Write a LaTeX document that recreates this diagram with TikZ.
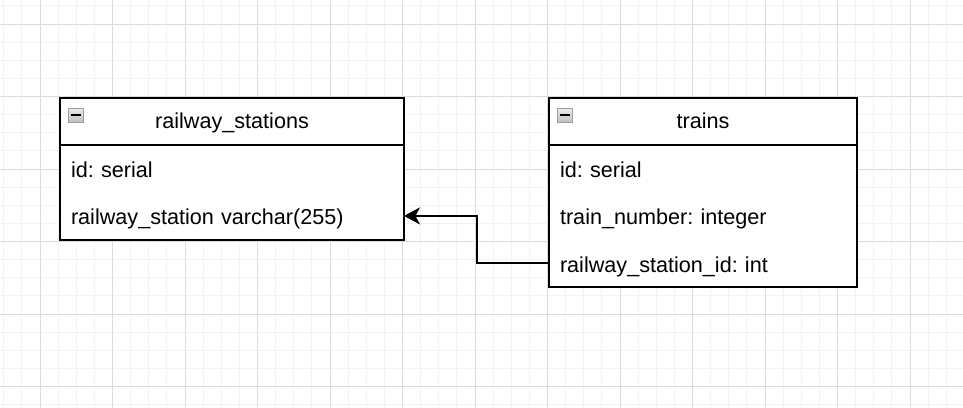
\documentclass[tikz,border=0pt]{standalone}
\usepackage{fontspec}
\setmainfont{Liberation Sans}
\usetikzlibrary{positioning,arrows.meta}
\definecolor{gridmajor}{HTML}{DBDBDB}
\definecolor{gridminor}{HTML}{F2F2F2}
\frenchspacing

\begin{document}
\begin{tikzpicture}[x=0.02cm,y=-0.02cm,
		every node/.style={font=\fontsize{12.3}{14}\selectfont,outer sep=0pt},
		tabhead/.style={draw,line width=1.14pt,fill=white,inner ysep=0pt,text height=0.606cm,text depth=0.334cm},
		tabrow/.style={fill=white,inner ysep=0pt,inner xsep=0.22cm,align=left,text height=0.65cm,text depth=0.296cm},
		tabline/.style={line width=1.14pt},
		iconbox/.style={draw=gray!75,top color=gray!15,bottom color=gray!50},
		fkline/.style={line width=1.14pt,-{Stealth[length=0.32cm,width=0.34cm,inset=0.09cm]}}]
		\useasboundingbox (0,0) rectangle (963,408);
		
		% grid
		\foreach \i in {0,...,53}
			\draw[gridminor,line width=0.5pt] ({3.75+18.125*\i},0) -- ({3.75+18.125*\i},408);
		\foreach \j in {0,...,22}
			\draw[gridminor,line width=0.5pt] (0,{5.875+18.125*\j}) -- (963,{5.875+18.125*\j});
		\foreach \i in {0,...,12}
			\draw[gridmajor,line width=0.5pt] ({40+72.5*\i},0) -- ({40+72.5*\i},408);
		\foreach \j in {0,...,5}
			\draw[gridmajor,line width=0.5pt] (0,{24+72.5*\j}) -- (963,{24+72.5*\j});
		
		% railway_stations
		\node[tabhead,minimum width=6.88cm] (stHead) at (232,121.5) {railway\_stations};
		\node[tabrow,text width=6.44cm,below=0pt of stHead] (stId) {id: serial};
		\node[tabrow,text width=6.44cm,below=0pt of stId] (stName) {railway\_station varchar(255)};
		\draw[tabline] (stHead.south west) rectangle (stName.south east);
		\filldraw[iconbox] ([shift={(8,10)}]stHead.north west) rectangle ++(15,14);
		\draw[line width=1.2pt] ([shift={(10.5,17)}]stHead.north west) -- ++(10,0);
		
		% trains
		\node[tabhead,minimum width=6.16cm] (trHead) at (703,121.5) {trains};
		\node[tabrow,text width=5.72cm,below=0pt of trHead] (trId) {id: serial};
		\node[tabrow,text width=5.72cm,below=0pt of trId] (trNumber) {train\_number: integer};
		\node[tabrow,text width=5.72cm,below=0pt of trNumber] (trStation) {railway\_station\_id: int};
		\draw[tabline] (trHead.south west) rectangle (trStation.south east);
		\filldraw[iconbox] ([shift={(8,10)}]trHead.north west) rectangle ++(15,14);
		\draw[line width=1.2pt] ([shift={(10.5,17)}]trHead.north west) -- ++(10,0);
		
		\draw[fkline] (trStation.west) -- ++(-72.3,0) |- (stName.east);
		
	\end{tikzpicture}
\end{document}
